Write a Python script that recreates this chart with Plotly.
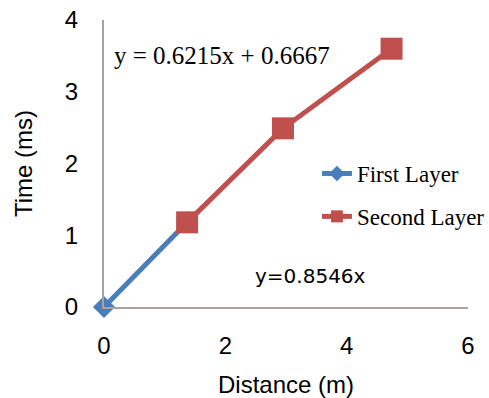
import plotly.graph_objects as go

first_x = [0, 1.37]
first_y = [0, 1.18]
second_x = [1.37, 2.95, 4.74]
second_y = [1.18, 2.49, 3.6]
x_ticks = [0, 2, 4, 6]
y_ticks = [0, 1, 2, 3, 4]
eq_second = "y = 0.6215x + 0.6667"
eq_first = "y=0.8546x"

fig = go.Figure()
fig.add_trace(go.Scatter(x=first_x, y=first_y, mode="lines+markers", name="First Layer",
                         legendgroup="a",
                         line=dict(color="#4a7ebb", width=5),
                         marker=dict(symbol="diamond", size=17, color="#4a7ebb", opacity=1),
                         cliponaxis=False))
fig.add_trace(go.Scatter(x=second_x, y=second_y, mode="lines+markers", name="Second Layer",
                         legendgroup="b",
                         line=dict(color="#c0504d", width=5),
                         marker=dict(symbol="square", size=22, color="#c0504d", opacity=1),
                         cliponaxis=False))

fig.add_annotation(x=0.13, y=3.50, xref="x", yref="y", text=eq_second, showarrow=False,
                   xanchor="left", font=dict(family="Liberation Serif", size=25, color="black"))
fig.add_annotation(x=2.45, y=0.43, xref="x", yref="y", text=eq_first, showarrow=False,
                   xanchor="left", font=dict(family="DejaVu Sans", size=20, color="black"))

axis_common = dict(showgrid=False, zeroline=False, showline=True, linecolor="#a8a2a0", linewidth=2,
                   ticks="outside", tickcolor="rgba(0,0,0,0)", automargin=False,
                   tickfont=dict(family="Liberation Sans", size=24, color="black"),
                   title_font=dict(family="Liberation Sans", size=24, color="black"))
fig.update_xaxes(range=[0, 6], tickvals=x_ticks, ticklen=16, title_text="Distance (m)",
                 title_standoff=22, **axis_common)
fig.update_yaxes(range=[0, 4], tickvals=y_ticks, ticklen=19, title_text="Time (ms)",
                 title_standoff=25, **axis_common)

fig.update_layout(width=489, height=398,
                  margin=dict(l=104, r=21, t=20, b=91, autoexpand=False),
                  plot_bgcolor="white", paper_bgcolor="white",
                  legend=dict(x=0.585, y=0.54, xanchor="left", yanchor="top",
                              font=dict(family="Liberation Serif", size=23, color="black"),
                              bgcolor="rgba(0,0,0,0)", tracegroupgap=10, itemsizing="constant"),
                  showlegend=True)
fig.write_html("out.html")
